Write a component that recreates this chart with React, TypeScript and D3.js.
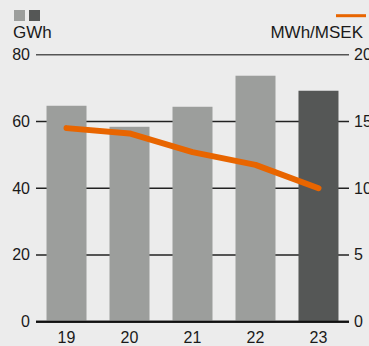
import React from "react";
import * as d3 from "d3";

// Annual energy use (GWh, bars) and energy intensity (MWh/MSEK, line)
const years = ["19", "20", "21", "22", "23"];
const energyGWh = [64.7, 58.4, 64.4, 73.7, 69.2];
const intensity = [14.5, 14.1, 12.7, 11.75, 10.0];
const leftTicks = [0, 20, 40, 60, 80];
const rightTicks = [0, 5, 10, 15, 20];

const W = 369;
const H = 346;
const BG = "#ececec";
const BAR_LIGHT = "#9c9e9c";
const BAR_DARK = "#555756";
const ORANGE = "#e86500";
const FONT = "'Liberation Sans', Arial, sans-serif";

export default function App() {
  const gridX0 = 36;
  const gridX1 = 349;
  const yTop = 54.7;
  const yBottom = 321.7;

  const x = d3
    .scaleBand<string>()
    .domain(years)
    .range([gridX0, gridX1])
    .paddingInner(23 / 63)
    .paddingOuter(0.167);

  const yLeft = d3.scaleLinear().domain([0, 80]).range([yBottom, yTop]);
  const yRight = d3.scaleLinear().domain([0, 20]).range([yBottom, yTop]);

  const line = d3
    .line<number>()
    .x((_, i) => (x(years[i]) ?? 0) + x.bandwidth() / 2)
    .y((d) => yRight(d));

  return (
    <svg
      width={W}
      height={H}
      style={{ position: "absolute", left: 0, top: 0 }}
      fontFamily={FONT}
    >
      <rect width={W} height={H} fill={BG} />

      {/* legend */}
      <rect x={14} y={10} width={11} height={11} fill={BAR_LIGHT} />
      <rect x={29} y={10} width={11} height={11} fill={BAR_DARK} />
      <text x={13} y={38} fontSize={17} fill="#1a1a1a">GWh</text>
      <line x1={336} x2={366} y1={15.7} y2={15.7} stroke={ORANGE} strokeWidth={3} />
      <text x={363} y={38} fontSize={17} fill="#1a1a1a" textAnchor="end">MWh/MSEK</text>

      {/* gridlines */}
      {leftTicks.map((t) => (
        <line
          key={`g${t}`}
          x1={gridX0}
          x2={gridX1}
          y1={yLeft(t)}
          y2={yLeft(t)}
          stroke={t === 0 ? "#111" : t === 80 ? "#555" : "#222"}
          strokeWidth={t === 0 ? 2 : 1.5}
        />
      ))}

      {/* bars */}
      {energyGWh.map((v, i) => (
        <rect
          key={years[i]}
          x={x(years[i])}
          y={yLeft(v)}
          width={x.bandwidth()}
          height={yBottom - yLeft(v)}
          fill={i === years.length - 1 ? BAR_DARK : BAR_LIGHT}
        />
      ))}
      <line x1={gridX0} x2={gridX1} y1={yBottom} y2={yBottom} stroke="#111" strokeWidth={2} />

      {/* intensity line */}
      <path
        d={line(intensity) ?? ""}
        fill="none"
        stroke={ORANGE}
        strokeWidth={6}
        strokeLinecap="round"
        strokeLinejoin="round"
      />

      {/* left axis labels */}
      {leftTicks.map((t) => (
        <text key={`l${t}`} x={30} y={yLeft(t) + 5.5} fontSize={16} textAnchor="end" fill="#1a1a1a">
          {t}
        </text>
      ))}

      {/* right axis labels */}
      {rightTicks.map((t) => (
        <text key={`r${t}`} x={354} y={yRight(t) + 5.5} fontSize={16} fill="#1a1a1a">
          {t}
        </text>
      ))}

      {/* category labels */}
      {years.map((yr) => (
        <text
          key={`x${yr}`}
          x={(x(yr) ?? 0) + x.bandwidth() / 2}
          y={342.5}
          fontSize={16}
          textAnchor="middle"
          fill="#1a1a1a"
        >
          {yr}
        </text>
      ))}
    </svg>
  );
}
